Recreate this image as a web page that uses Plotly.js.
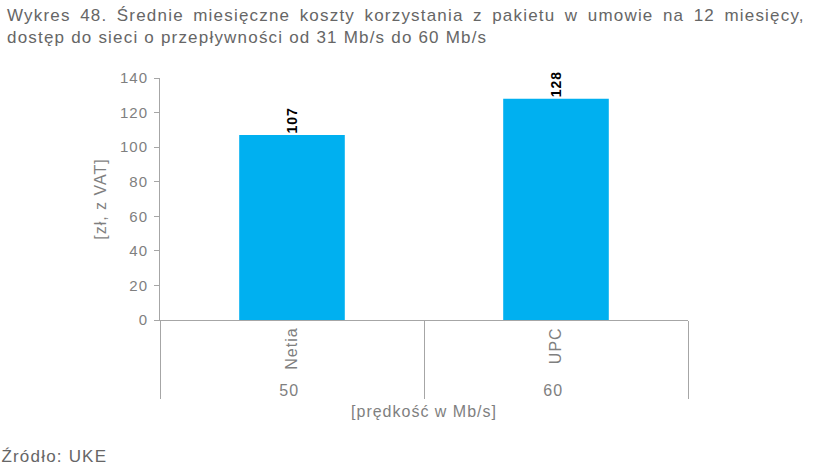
<!DOCTYPE html>
<html>
<head>
<meta charset="utf-8">
<script src="https://cdn.plot.ly/plotly-3.0.1.min.js"></script>
<style>
body{margin:0;padding:0;background:#fff;}
/* the reference text is drawn a bit wider than Arial */
#chart text{letter-spacing:1px;}
#chart .annotation-text{letter-spacing:1.2px;}
</style>
</head>
<body>
<div id="chart" style="width:815px;height:473px;"></div>
<script>
// speeds (outer level) and operators (inner level)
var speeds = ["50", "60"];
var operators = ["Netia", "UPC"];
var costs = [107, 128];
var yTicks = [0, 20, 40, 60, 80, 100, 120, 140];

var trace = {
  type: 'bar',
  x: [speeds, operators],
  y: costs,
  width: 0.4,
  marker: {color: '#00B0F0'},
  text: costs.map(String),
  textposition: 'outside',
  textangle: -90,
  cliponaxis: false,
  textfont: {family: 'Liberation Sans, Arial, sans-serif', size: 14, color: '#000000', weight: 'bold'},
  hoverinfo: 'none'
};

var layout = {
  width: 815,
  height: 473,
  margin: {l: 160, r: 127, t: 78, b: 153},
  paper_bgcolor: '#ffffff',
  plot_bgcolor: '#ffffff',
  showlegend: false,
  font: {family: 'Liberation Sans, Arial, sans-serif', color: '#7f7f7f', size: 15},
  xaxis: {
    type: 'multicategory',
    showline: true,
    linecolor: '#a6a6a6',
    linewidth: 1,
    ticks: '',
    tickangle: -90,
    tickfont: {size: 16, color: '#7f7f7f'},
    showdividers: true,
    dividercolor: '#a6a6a6',
    dividerwidth: 1,
    title: {text: '[prędkość w Mb/s]', font: {size: 16, color: '#7f7f7f'}, standoff: 8}
  },
  yaxis: {
    range: [0, 140],
    tickvals: yTicks,
    showgrid: false,
    zeroline: false,
    showline: true,
    linecolor: '#a6a6a6',
    ticks: 'outside',
    ticklen: 5,
    tickcolor: '#a6a6a6',
    ticklabelstandoff: 3,
    tickfont: {size: 15, color: '#7f7f7f'},
    title: {text: '[zł, z VAT]', font: {size: 16, color: '#7f7f7f'}, standoff: 12}
  },
  annotations: [
    {
      xref: 'paper', yref: 'paper', x: 0, y: 1,
      xanchor: 'left', yanchor: 'top',
      xshift: -155, yshift: 74,
      align: 'left',
      showarrow: false,
      text: '<span style="word-spacing:3.5px">Wykres 48. Średnie miesięczne koszty korzystania z pakietu w umowie na 12 miesięcy,</span><br>dostęp do sieci o przepływności od 31 Mb/s do 60 Mb/s',
      font: {size: 17, color: '#666666'}
    },
    {
      xref: 'paper', yref: 'paper', x: 0, y: 0,
      xanchor: 'left', yanchor: 'middle',
      xshift: -154, yshift: -136,
      showarrow: false,
      text: 'Źródło: UKE',
      font: {size: 17, color: '#666666'}
    }
  ]
};

Plotly.newPlot('chart', [trace], layout, {displayModeBar: false, staticPlot: true});
</script>
</body>
</html>
